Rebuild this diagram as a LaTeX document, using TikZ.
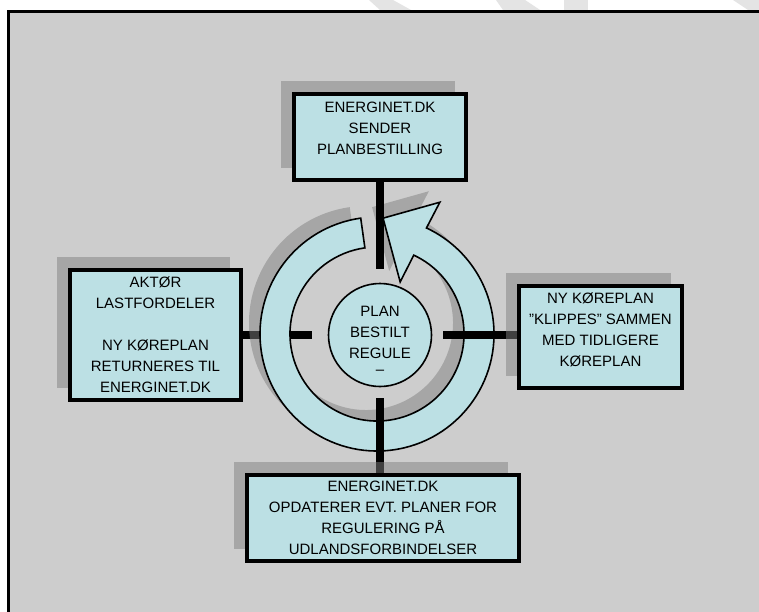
\documentclass[tikz,border=0pt]{standalone}
\usepackage{fontspec}
\setmainfont{Liberation Sans}
\usetikzlibrary{calc}

\definecolor{panel}{HTML}{CDCDCD}
\definecolor{boxblue}{HTML}{BCE0E4}
\definecolor{stripe}{HTML}{E4E4E4}

\pgfdeclarelayer{frame}
\pgfdeclarelayer{ringlayer}
\pgfdeclarelayer{barlayer}
\pgfdeclarelayer{shadowlayer}
\pgfsetlayers{frame,ringlayer,barlayer,shadowlayer,main}

\tikzset{
  stepbox/.style={draw, line width=3.6pt, fill=boxblue, align=center, inner sep=0pt,
    font=\fontsize{15}{21}\selectfont},
  hub/.style={draw, circle, line width=1.6pt, fill=boxblue, align=center, inner sep=0pt,
    minimum size=103pt, font=\fontsize{15}{21}\selectfont},
  boxshadow/.style={fill=black!50, fill opacity=0.5},
  connbar/.style={line width=8pt},
}

% ring with arrow head, centre at origin, angles as on screen
\newcommand\ringarrow{(98:117) arc[start angle=98, end angle=425, radius=117]
  -- (64.5:146) -- (87:116) -- (66:57) -- (65:87)
  arc[start angle=65, end angle=-262, radius=87] -- cycle}

\begin{document}
\begin{tikzpicture}[x=1pt,y=-1pt]
\useasboundingbox (0,0) rectangle (759,611);

\node[stepbox, minimum width=172.4pt, minimum height=86.4pt] (bestil) at (380,137)
  {ENERGINET.DK\\SENDER\\PLANBESTILLING\rule[-18pt]{0pt}{0pt}};
\node[stepbox, minimum width=171.4pt, minimum height=130.4pt] (aktor) at (155.5,335)
  {AKTØR\\LASTFORDELER\\[21pt]NY KØREPLAN\\RETURNERES TIL\\ENERGINET.DK};
\node[stepbox, minimum width=163.4pt, minimum height=102.4pt] (klip) at (600.5,337)
  {NY KØREPLAN\\"KLIPPES" SAMMEN\\MED TIDLIGERE\\KØREPLAN\rule[-15pt]{0pt}{0pt}};
\node[stepbox, minimum width=272.4pt, minimum height=86.4pt] (opdat) at (383,518)
  {ENERGINET.DK\\OPDATERER EVT. PLANER FOR\\REGULERING PÅ\\UDLANDSFORBINDELSER};
\node[hub] (plan) at (380,335) {\rule{0pt}{21pt}PLAN\\BESTILT\\REGULE\\[-5pt]–};

\begin{pgfonlayer}{frame}
\fill[white] (0,0) rectangle (759,611);
\fill[stripe] (369,0) -- (393,0) -- (411,10) -- (380,10) -- cycle;
\fill[stripe] (496,0) -- (525,0) -- (540,10) -- (503,10) -- cycle;
\fill[stripe] (564,0) -- (588,0) -- (588,10) -- (564,10) -- cycle;
\fill[stripe] (733,0) -- (759,0) -- (759,10) -- (748,10) -- cycle;
\draw[line width=3pt, fill=panel] (8.5,11.3) rectangle (775,625);
\draw[connbar, shorten >=16pt] (aktor) -- (plan);
\end{pgfonlayer}

\begin{pgfonlayer}{ringlayer}
\begin{scope}[shift={(377,334)}, yscale=-1]
\fill[boxshadow, shift={(-11,11)}] \ringarrow;
\draw[line width=1.6pt, fill=boxblue] \ringarrow;
\end{scope}
\end{pgfonlayer}

\begin{pgfonlayer}{barlayer}
\draw[connbar, shorten >=14pt] (plan.north |- bestil.south) -- (plan.north);
\draw[connbar, shorten <=11pt] (plan.east) -- (plan.east -| klip.west);
\draw[connbar, shorten >=11pt] (plan.south |- opdat.north) -- (plan.south);
\end{pgfonlayer}

\begin{pgfonlayer}{shadowlayer}
\foreach \b in {bestil,aktor,klip,opdat}
  \fill[boxshadow] ($(\b.north west)+(-11,-11)$) rectangle ($(\b.south east)+(-13,-14)$);
\end{pgfonlayer}
\end{tikzpicture}
\end{document}
